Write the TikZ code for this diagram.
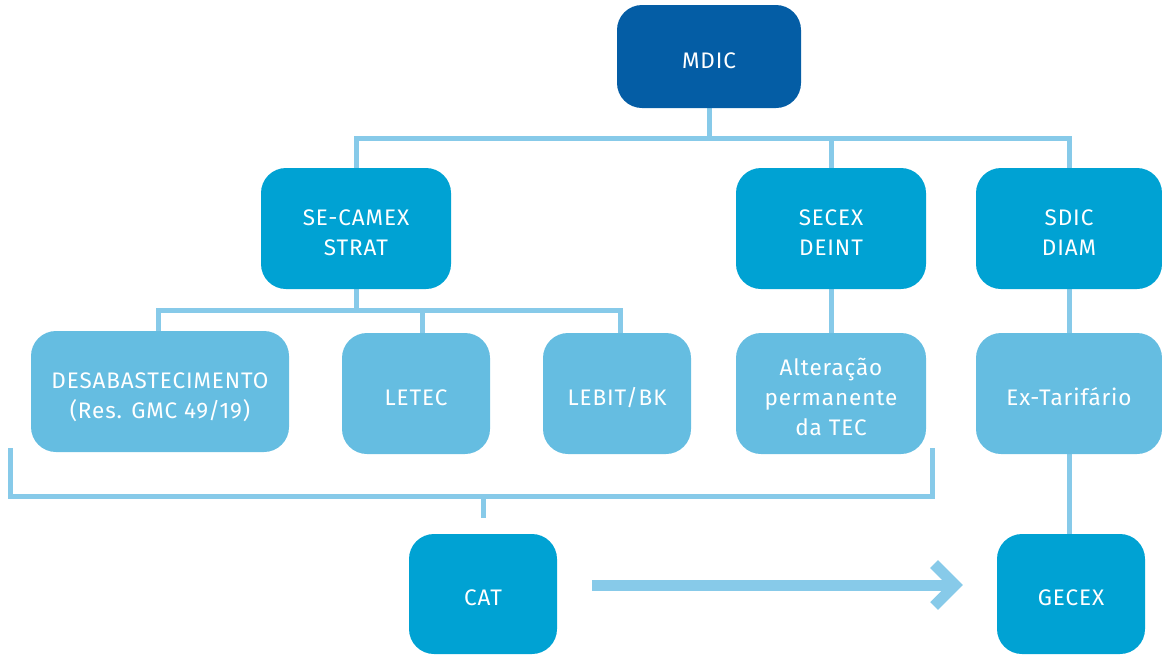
\documentclass[tikz,border=0pt]{standalone}
\usepackage{fontspec}
\setmainfont{Fira Sans}[LetterSpace=4]
\usetikzlibrary{arrows.meta,backgrounds}
\definecolor{dkblue}{HTML}{045DA5}
\definecolor{mdblue}{HTML}{00A2D3}
\definecolor{ltblue}{HTML}{65BDE1}
\definecolor{lnblue}{HTML}{87CAE9}
\newcommand{\topstrut}{\rule{0pt}{30pt}}
\newcommand{\botstrut}{\rule[-7pt]{0pt}{0pt}}
\tikzset{
  box/.style={rounded corners=25pt, inner sep=0pt, text=white, align=center,
    font=\fontsize{22.5}{30}\selectfont},
  topbox/.style={box, fill=dkblue, minimum width=184pt, minimum height=103pt},
  midbox/.style={box, fill=mdblue, minimum width=190pt, minimum height=121pt},
  lowbox/.style={box, fill=ltblue, minimum width=148pt, minimum height=121pt},
  conn/.style={draw=lnblue, line width=5pt, line join=miter},
  bigarrow/.style={draw=lnblue, line width=11pt,
    -{Straight Barb[length=21pt,width=42pt]}}
}
\begin{document}
\begin{tikzpicture}[x=1pt,y=-1pt]
\useasboundingbox (0,0) rectangle (1162,654);
\node[topbox] (mdic) at (709,56.5) {\topstrut MDIC\botstrut};
\node[midbox] (secamex) at (356,228.5) {\topstrut SE-CAMEX\\STRAT\botstrut};
\node[midbox] (secex) at (831,228.5) {\topstrut SECEX\\DEINT\botstrut};
\node[midbox, minimum width=186pt] (sdic) at (1069,228.5) {\topstrut SDIC\\DIAM\botstrut};
\node[lowbox, minimum width=258pt] (desab) at (160,391.5) {\topstrut DESABASTECIMENTO\\(Res. GMC 49/19)\botstrut};
\node[lowbox] (letec) at (416,393.5) {\topstrut LETEC\botstrut};
\node[lowbox] (lebit) at (617,393.5) {\topstrut LEBIT/BK\botstrut};
\node[lowbox, minimum width=190pt] (alter) at (831,393.5) {\topstrut Alteração\\permanente\\da TEC\botstrut};
\node[lowbox, minimum width=186pt] (extar) at (1069,393.5) {\topstrut Ex-Tarifário\botstrut};
\node[midbox, minimum width=148pt, minimum height=120pt] (cat) at (483,594) {\topstrut CAT\botstrut};
\node[midbox, minimum width=148pt, minimum height=120pt] (gecex) at (1071,594) {\topstrut GECEX\botstrut};
\begin{scope}[on background layer]
\coordinate (j1) at (709,138);
\draw[conn] (mdic) -- (j1);
\draw[conn] (j1) -| (secamex);
\draw[conn] (j1) -| (secex);
\draw[conn] (j1) -| (sdic);
\coordinate (j2) at (356,310);
\draw[conn] (secamex) -- (j2);
\draw[conn] (j2) -| ([xshift=-2pt]desab.north);
\draw[conn] (j2) -| ([xshift=6pt]letec.north);
\draw[conn] (j2) -| ([xshift=3pt]lebit.north);
\draw[conn] (secex) -- (alter);
\draw[conn] (sdic) -- (extar);
\draw[conn] (extar) -- (extar |- gecex.north);
\coordinate (bl) at (10,448);
\coordinate (br) at (932,448);
\coordinate (bm) at (483,496);
\coordinate (bt) at (483,518);
\draw[conn] (bl) |- (bm) -| (br);
\draw[conn] (bm) -- (bt);
\end{scope}
\draw[bigarrow, shorten <=35pt, shorten >=34pt] ([yshift=9pt]cat.east) -- ([yshift=9pt]cat.east -| gecex.west);
\end{tikzpicture}
\end{document}
